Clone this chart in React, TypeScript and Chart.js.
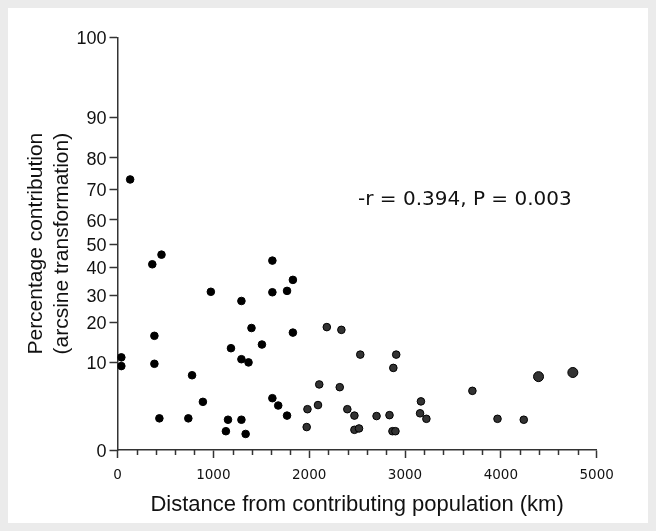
import { useEffect, useRef } from 'react';
import { Chart, registerables } from 'chart.js';

Chart.register(...registerables);

// Distance from contributing population (km)
const distanceKm = [
  132, 40, 40, 363, 459, 385, 385, 437, 778, 891, 739, 974, 1293, 1184, 1293, 1367,
  1398, 1507, 1153, 1131, 1293, 1337, 1616, 1616, 1769, 1830, 1830, 1616, 1677, 1769,
  1982, 1974, 2092, 2105, 2184, 2319, 2336, 2398, 2472, 2472, 2520, 2533, 2703, 2838,
  2878, 2908, 2869, 2900, 3166, 3157, 3223, 3703, 3965, 4239, 4393, 4751,
];

// Percentage contribution on the arcsine-transformed axis (axis units 0..90)
const arcsineValues = [
  59.0, 20.2, 18.3, 40.5, 42.6, 24.9, 18.8, 6.9, 16.3, 10.5, 6.9, 34.5, 32.5, 22.2, 19.8, 19.1,
  26.6, 23.0, 6.6, 4.1, 6.6, 3.5, 41.3, 34.4, 34.7, 37.1, 25.6, 11.3, 9.7, 7.5,
  8.9, 5.0, 9.8, 14.3, 26.8, 13.7, 26.2, 8.9, 7.5, 4.4, 4.7, 20.8, 7.4, 7.6,
  17.9, 20.8, 4.1, 4.1, 10.6, 8.0, 6.8, 12.9, 6.8, 6.6, 16.0, 16.9,
];

// y tick positions on the transformed axis and their percentage labels
const yTickPositions = [0, 19.13, 27.85, 33.74, 39.84, 44.92, 50.16, 56.85, 63.74, 72.55, 90];
const yTickLabels = ['0', '10', '20', '30', '40', '50', '60', '70', '80', '90', '100'];

const xMin = 0;
const xMax = 5000;
const xMajorStep = 1000;
const xMinorStep = 200;

const xTitle = 'Distance from contributing population (km)';
const yTitle = ['Percentage contribution', '(arcsine transformation)'];

const annotationText = '-r = 0.394, P = 0.003';
const annotationX = 2510;
const annotationY = 54.5;

export default function App() {
  const canvasRef = useRef<HTMLCanvasElement | null>(null);

  useEffect(() => {
    document.documentElement.style.background = '#ebebeb';
    document.body.style.background = '#ebebeb';
    document.body.style.margin = '8px';
    const canvas = canvasRef.current;
    if (!canvas) return;

    const extras = {
      id: 'extras',
      afterDraw(chart: any) {
        const { ctx } = chart;
        const x = chart.scales.x;
        const y = chart.scales.y;
        ctx.save();
        ctx.strokeStyle = '#333';
        ctx.lineWidth = 1.5;
        for (let v = xMin + xMinorStep; v < xMax; v += xMinorStep) {
          if (v % xMajorStep === 0) continue;
          const px = Math.round(x.getPixelForValue(v)) + 0.5;
          ctx.beginPath();
          ctx.moveTo(px, y.bottom);
          ctx.lineTo(px, y.bottom + 5);
          ctx.stroke();
        }
        ctx.font = '20px "DejaVu Sans"';
        ctx.fillStyle = '#111';
        ctx.textAlign = 'left';
        ctx.textBaseline = 'middle';
        ctx.fillText(annotationText, x.getPixelForValue(annotationX), y.getPixelForValue(annotationY));
        ctx.restore();
      },
    };

    const chart = new Chart(canvas, {
      type: 'scatter',
      data: {
        datasets: [
          {
            data: distanceKm.map((d, i) => ({ x: d, y: arcsineValues[i] })),
            pointRadius: (c: any) => (c.raw && c.raw.x > 4300 ? 5 : 3.8),
            pointHoverRadius: (c: any) => (c.raw && c.raw.x > 4300 ? 5 : 3.8),
            pointBackgroundColor: (c: any) => (c.raw && c.raw.x >= 1950 ? '#333' : '#000'),
            pointBorderColor: '#000',
            pointBorderWidth: 1,
          },
        ],
      },
      options: {
        animation: false,
        responsive: false,
        events: [],
        layout: { padding: { left: 0, right: 51.3, top: 29.3, bottom: 0 } },
        plugins: { legend: { display: false }, tooltip: { enabled: false } },
        scales: {
          x: {
            type: 'linear',
            min: xMin,
            max: xMax,
            ticks: {
              stepSize: xMajorStep,
              callback: (v: any) => String(v),
              font: { family: 'DejaVu Sans', size: 13.5 },
              color: '#111',
              padding: 9,
              maxRotation: 0,
              autoSkip: false,
            },
            grid: {
              display: true,
              drawOnChartArea: false,
              drawTicks: true,
              tickLength: 8,
              tickColor: '#333',
              tickWidth: 1.5,
            },
            border: { display: true, color: '#333', width: 1.5 },
            title: {
              display: true,
              text: xTitle,
              font: { family: 'Liberation Sans', size: 22, lineHeight: 1.2 },
              color: '#111',
              padding: { top: 0, bottom: 5 },
            },
            afterFit: (s: any) => {
              s.height = 73;
            },
          },
          y: {
            type: 'linear',
            min: 0,
            max: 90,
            afterBuildTicks: (s: any) => {
              s.ticks = yTickPositions.map((v) => ({ value: v }));
            },
            ticks: {
              callback: (_v: any, i: number) => yTickLabels[i],
              font: { family: 'Liberation Sans', size: 18 },
              color: '#111',
              padding: 3,
              labelOffset: 2,
              autoSkip: false,
            },
            grid: {
              display: true,
              drawOnChartArea: false,
              drawTicks: true,
              tickLength: 8,
              tickColor: '#333',
              tickWidth: 1.5,
            },
            border: { display: true, color: '#333', width: 1.5 },
            title: {
              display: true,
              text: yTitle,
              font: { family: 'Liberation Sans', size: 21, lineHeight: 1.25 },
              color: '#111',
              padding: { top: 15, bottom: 0 },
            },
            afterFit: (s: any) => {
              s.width = 109.5;
            },
          },
        },
      },
      plugins: [extras],
    } as any);

    return () => chart.destroy();
  }, []);

  return (
    <div style={{ width: 640, height: 515, background: '#ffffff' }}>
      <canvas ref={canvasRef} width={640} height={515} style={{ display: 'block' }} />
    </div>
  );
}
